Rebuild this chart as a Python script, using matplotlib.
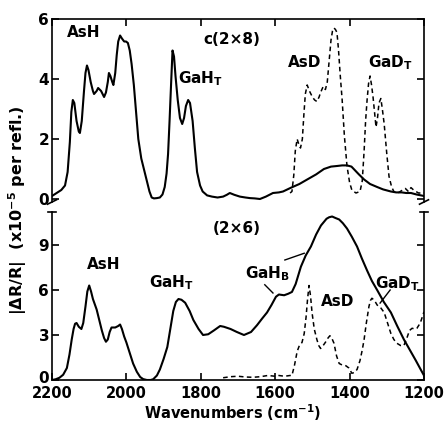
import numpy as np
import matplotlib
matplotlib.use("Agg")
import matplotlib.pyplot as plt
from matplotlib.transforms import ScaledTranslation

# ---------------- data ----------------
# top panel c(2x8): solid (H) curve
top_h_x = [2200, 2190, 2175, 2165, 2158, 2152, 2148, 2144, 2140, 2134, 2128, 2125, 2120, 2114,
           2110, 2106, 2102, 2096, 2090, 2087, 2080, 2076, 2068, 2060, 2055, 2050, 2047, 2043,
           2038, 2035, 2030, 2026, 2022, 2017, 2012, 2006, 2001, 1996, 1991, 1986, 1980, 1974,
           1968, 1960, 1952, 1945, 1938, 1932, 1926, 1918, 1910, 1903, 1897, 1892, 1888, 1884,
           1880, 1876, 1872, 1868, 1862, 1856, 1850, 1845, 1840, 1834, 1829, 1822, 1816, 1810,
           1802, 1795, 1783, 1770, 1755, 1740, 1730, 1722, 1710, 1695, 1680, 1668, 1655, 1641,
           1625, 1606, 1590, 1579, 1557, 1535, 1514, 1490, 1469, 1450, 1434, 1420, 1407, 1395,
           1385, 1375, 1361, 1345, 1326, 1310, 1289, 1275, 1260, 1248, 1235, 1220, 1200]
top_h_y = [0.10, 0.18, 0.30, 0.45, 0.90, 1.90, 2.90, 3.30, 3.20, 2.60, 2.25, 2.20, 2.60, 3.60,
           4.20, 4.45, 4.30, 3.90, 3.60, 3.50, 3.60, 3.70, 3.60, 3.40, 3.55, 3.90, 4.20, 4.10,
           3.90, 3.80, 4.20, 4.80, 5.25, 5.45, 5.35, 5.25, 5.25, 5.20, 4.95, 4.50, 3.80, 2.90,
           2.00, 1.35, 0.95, 0.60, 0.25, 0.05, 0.02, 0.03, 0.05, 0.15, 0.40, 0.85, 1.50, 2.60,
           3.80, 4.95, 4.75, 4.10, 3.30, 2.70, 2.50, 2.70, 3.10, 3.30, 3.20, 2.60, 1.70, 0.90,
           0.45, 0.25, 0.12, 0.08, 0.05, 0.08, 0.14, 0.20, 0.14, 0.08, 0.05, 0.03, 0.02, 0.00,
           0.08, 0.20, 0.22, 0.25, 0.38, 0.50, 0.65, 0.82, 1.00, 1.08, 1.10, 1.12, 1.12, 1.08,
           0.95, 0.82, 0.65, 0.50, 0.40, 0.32, 0.25, 0.22, 0.22, 0.20, 0.20, 0.15, 0.10]

# top panel c(2x8): dashed (D) curve
top_d_x = [1560, 1555, 1550, 1546, 1541, 1536, 1532, 1527, 1523, 1519, 1514, 1508, 1500, 1494,
           1488, 1482, 1478, 1471, 1465, 1460, 1455, 1450, 1446, 1442, 1438, 1434, 1430, 1425,
           1420, 1414, 1407, 1400, 1394, 1383, 1372, 1366, 1361, 1357, 1353, 1349, 1345, 1341,
           1337, 1333, 1329, 1325, 1321, 1316, 1312, 1307, 1300, 1294, 1287, 1281, 1270, 1260,
           1250, 1242, 1235, 1228, 1215, 1200]
top_d_y = [0.20, 0.25, 0.80, 1.60, 2.00, 1.80, 1.70, 2.00, 2.80, 3.50, 3.80, 3.60, 3.40, 3.30,
           3.25, 3.40, 3.55, 3.75, 3.65, 3.90, 4.60, 5.30, 5.60, 5.70, 5.65, 5.55, 5.00, 4.10,
           3.30, 2.10, 1.10, 0.55, 0.30, 0.20, 0.25, 0.60, 1.60, 2.60, 3.30, 3.85, 4.10, 3.80,
           3.40, 2.90, 2.40, 2.70, 3.20, 3.35, 3.00, 2.50, 1.50, 0.75, 0.40, 0.25, 0.20, 0.28,
           0.35, 0.25, 0.38, 0.30, 0.20, 0.20]

# bottom panel (2x6): solid (H) curve
bot_h_x = [2200, 2190, 2180, 2170, 2160, 2153, 2147, 2142, 2138, 2134, 2128, 2121, 2116, 2110,
           2105, 2100, 2095, 2090, 2080, 2072, 2066, 2060, 2055, 2050, 2045, 2040, 2030, 2022,
           2017, 2012, 2006, 2000, 1991, 1982, 1972, 1963, 1955, 1945, 1935, 1928, 1918, 1910,
           1900, 1890, 1882, 1874, 1867, 1860, 1852, 1842, 1830, 1820, 1806, 1794, 1780, 1765,
           1748, 1738, 1720, 1703, 1684, 1665, 1649, 1635, 1622, 1610, 1598, 1590, 1576, 1565,
           1555, 1545, 1531, 1518, 1504, 1490, 1477, 1462, 1455, 1447, 1438, 1428, 1418, 1407,
           1394, 1380, 1367, 1353, 1340, 1326, 1308, 1289, 1272, 1254, 1238, 1222, 1210, 1200]
bot_h_y = [0.00, 0.05, 0.15, 0.35, 0.80, 1.70, 2.70, 3.40, 3.75, 3.80, 3.55, 3.40, 3.80, 4.90,
           5.90, 6.30, 5.90, 5.40, 4.70, 3.90, 3.30, 2.80, 2.55, 2.70, 3.20, 3.50, 3.50, 3.60,
           3.70, 3.40, 2.90, 2.50, 1.80, 1.10, 0.55, 0.20, 0.06, 0.00, 0.00, 0.05, 0.30, 0.70,
           1.40, 2.20, 3.40, 4.60, 5.20, 5.40, 5.35, 5.15, 4.60, 4.00, 3.40, 3.00, 3.05, 3.30,
           3.60, 3.55, 3.40, 3.20, 3.00, 3.20, 3.65, 4.10, 4.50, 5.00, 5.55, 5.70, 5.65, 5.75,
           5.87, 6.40, 7.55, 8.30, 8.90, 9.70, 10.30, 10.75, 10.85, 10.90, 10.80, 10.70, 10.45, 10.10,
           9.55, 8.90, 8.10, 7.30, 6.60, 6.00, 5.20, 4.50, 3.60, 2.70, 2.00, 1.30, 0.75, 0.30]

# bottom panel (2x6): dashed (D) curve
bot_d_x = [1740, 1720, 1700, 1680, 1660, 1640, 1620, 1600, 1590, 1575, 1560, 1555, 1548, 1541,
           1535, 1528, 1522, 1517, 1513, 1509, 1505, 1501, 1495, 1488, 1483, 1478, 1471, 1464,
           1458, 1453, 1448, 1442, 1435, 1428, 1420, 1410, 1402, 1394, 1387, 1380, 1372, 1366,
           1361, 1355, 1348, 1344, 1340, 1333, 1326, 1316, 1307, 1298, 1289, 1281, 1273, 1263,
           1254, 1246, 1239, 1232, 1225, 1219, 1210, 1200]
bot_d_y = [0.15, 0.22, 0.25, 0.20, 0.18, 0.22, 0.30, 0.25, 0.30, 0.25, 0.30, 0.30, 1.00, 1.90,
           2.30, 2.50, 3.10, 4.20, 5.40, 6.30, 5.60, 4.50, 3.40, 2.70, 2.30, 2.10, 2.30, 2.55,
           2.80, 2.95, 2.80, 2.45, 1.60, 1.10, 1.00, 0.95, 0.80, 0.45, 0.50, 0.70, 1.30, 2.00,
           2.70, 3.80, 4.90, 5.30, 5.45, 5.30, 5.00, 4.80, 4.50, 3.80, 3.10, 2.70, 2.45, 2.30,
           2.30, 2.80, 3.30, 3.45, 3.40, 3.45, 3.80, 4.55]

x_ticks = [2200, 2000, 1800, 1600, 1400, 1200]
top_yticks = [0, 2, 4, 6]
bot_yticks = [0, 3, 6, 9]

# ---------------- figure ----------------
plt.rcParams['font.family'] = ['DejaVu Sans']
plt.rcParams['font.weight'] = 'bold'
plt.rcParams['mathtext.default'] = 'bf'

W, H = 448, 422
fig = plt.figure(figsize=(W / 100, H / 100), dpi=100)
L, R = 52 / W, 424 / W
ax1 = fig.add_axes([L, 1 - 202 / H, R - L, (202 - 19) / H])
ax2 = fig.add_axes([L, 1 - 380 / H, R - L, (380 - 212) / H])

lw = 1.5
dash = (0, (3.0, 2.2))
ax1.plot(top_h_x, top_h_y, color='black', lw=lw, solid_joinstyle='round')
ax1.plot(top_d_x, top_d_y, color='black', lw=1.1, linestyle=dash)
ax2.plot(bot_h_x, bot_h_y, color='black', lw=lw, solid_joinstyle='round')
ax2.plot(bot_d_x, bot_d_y, color='black', lw=1.1, linestyle=dash)

for ax in (ax1, ax2):
    ax.set_xlim(2200, 1200)
    for s in ax.spines.values():
        s.set_linewidth(1.2)
    ax.tick_params(direction='in', length=5, width=1.2, labelsize=11, pad=2)

ax1.set_ylim(-0.1, 6.0)
ax2.set_ylim(0, 11.2)

ax1.spines['bottom'].set_visible(False)
ax2.spines['top'].set_visible(False)

ax1.set_yticks(top_yticks)
ax1.set_xticks(x_ticks)
ax1.tick_params(axis='x', bottom=False, top=True, labelbottom=False, labeltop=False)
ax1.tick_params(axis='y', left=True, right=True)

ax2.set_yticks(bot_yticks)
ax2.set_xticks(x_ticks)
ax2.set_xticklabels([str(v) for v in x_ticks])
ax2.tick_params(axis='x', bottom=True, top=False, pad=4, labelsize=10.5)
ax2.tick_params(axis='y', left=True, right=True)
zero_lab = ax2.yaxis.get_major_ticks()[0].label1
zero_lab.set_transform(zero_lab.get_transform() + ScaledTranslation(0, 3 / 100, fig.dpi_scale_trans))

# break marks
for xa in (0, 1):
    ax1.plot([xa - 0.012, xa + 0.012], [-0.012, 0.012], transform=ax1.transAxes,
             color='black', lw=1.2, clip_on=False)
    ax2.plot([xa - 0.012, xa + 0.012], [1.0, 1.0], transform=ax2.transAxes,
             color='black', lw=1.2, clip_on=False)

fs = 11
ax1.text(2160, 5.55, 'AsH', fontsize=fs, ha='left', va='center')
ax1.text(1716, 5.3, 'c(2×8)', fontsize=fs, ha='center', va='center')
ax1.text(1860, 4.0, r'GaH$_{T}$', fontsize=fs, ha='left', va='center')
ax1.text(1565, 4.55, 'AsD', fontsize=fs, ha='left', va='center')
ax1.text(1350, 4.55, r'GaD$_{T}$', fontsize=fs, ha='left', va='center')

ax2.text(1767, 10.1, '(2×6)', fontsize=fs, ha='left', va='center')
ax2.text(2105, 7.7, 'AsH', fontsize=fs, ha='left', va='center')
ax2.text(1940, 6.5, r'GaH$_{T}$', fontsize=fs, ha='left', va='center')
ax2.text(1680, 7.1, r'GaH$_{B}$', fontsize=fs, ha='left', va='center')
ax2.text(1477, 5.2, 'AsD', fontsize=fs, ha='left', va='center')
ax2.text(1332, 6.4, r'GaD$_{T}$', fontsize=fs, ha='left', va='center')

lk = dict(color='black', lw=1.0)
ax2.plot([1574, 1522], [8.0, 8.45], **lk)
ax2.plot([1628, 1606], [6.35, 5.8], **lk)
ax2.plot([1291, 1318], [6.0, 5.13], **lk)

fig.text(233 / W, 1 - 413 / H, 'Wavenumbers (cm$^{-1}$)', fontsize=10.5,
         ha='center', va='center')
fig.text(18 / W, 1 - 210 / H, '|ΔR/R|  (x10$^{-5}$ per refl.)', rotation=90,
         fontsize=11.5, ha='center', va='center')

fig.savefig('out.png', dpi=100)
